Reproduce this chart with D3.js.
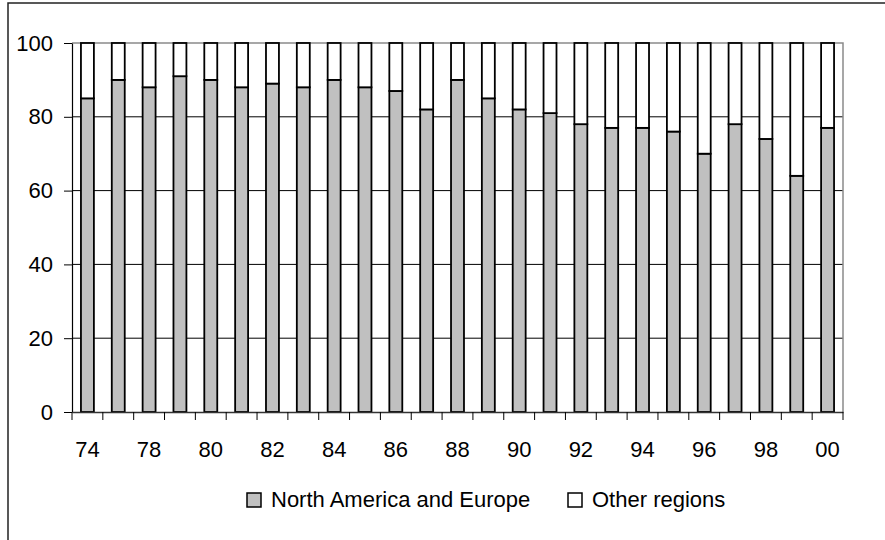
<!DOCTYPE html>
<html>
<head>
<meta charset="utf-8">
<script src="https://cdn.jsdelivr.net/npm/d3@7"></script>
<style>
  html, body { margin: 0; padding: 0; background: #fff; }
  svg { display: block; font-family: "Liberation Sans", Arial, sans-serif; }
</style>
</head>
<body>
<svg id="chart" width="885" height="540"></svg>
<script>
// Year periods (two-digit years), one bar each
const periods = ["74","75","78","79","80","81","82","83","84","85","86","87","88",
                 "89","90","91","92","93","94","95","96","97","98","99","00"];
// Share (%) by region
const northAmericaEurope = [85,90,88,91,90,88,89,88,90,88,87,82,90,85,82,81,78,77,77,76,70,78,74,64,77];
const otherRegions       = [15,10,12, 9,10,12,11,12,10,12,13,18,10,15,18,19,22,23,23,24,30,22,26,36,23];
// Axis tick labels
const xTickLabels = ["74","78","80","82","84","86","88","90","92","94","96","98","00"];
const yTickValues = [0,20,40,60,80,100];

const seriesNames = ["North America and Europe", "Other regions"];
const seriesFill = ["#c0c0c0", "#ffffff"];

const rows = periods.map((p, i) => ({
  period: p,
  "North America and Europe": northAmericaEurope[i],
  "Other regions": otherRegions[i]
}));

const svg = d3.select("#chart");
const plot = { left: 72, right: 843, top: 43, bottom: 412 };
const FONT = 22;

// Outer frame (left and top edges)
svg.append("path")
  .attr("d", `M8,540 L8,3 L885,3`)
  .attr("fill", "none").attr("stroke", "#222").attr("stroke-width", 1.5);

const x = d3.scaleBand()
  .domain(periods)
  .range([plot.left, plot.right])
  .paddingInner(0.58)
  .paddingOuter(0.29);

const y = d3.scaleLinear().domain([0, 100]).range([plot.bottom, plot.top]);

// Horizontal gridlines
svg.append("g")
  .selectAll("line")
  .data(yTickValues.filter(v => v > 0 && v < 100))
  .join("line")
  .attr("x1", plot.left).attr("x2", plot.right)
  .attr("y1", d => y(d)).attr("y2", d => y(d))
  .attr("stroke", "#000").attr("stroke-width", 1);

// Plot area top and right border
svg.append("path")
  .attr("d", `M${plot.left},${y(100)} L${plot.right},${y(100)} L${plot.right},${plot.bottom}`)
  .attr("fill", "none").attr("stroke", "#8a8a8a").attr("stroke-width", 1.5);

// Stacked bars
const stack = d3.stack().keys(seriesNames);
const layers = stack(rows);

svg.append("g")
  .selectAll("g")
  .data(layers)
  .join("g")
  .attr("fill", (d, i) => seriesFill[i])
  .selectAll("rect")
  .data(d => d)
  .join("rect")
  .attr("x", d => x(d.data.period))
  .attr("width", x.bandwidth())
  .attr("y", d => y(d[1]))
  .attr("height", d => y(d[0]) - y(d[1]))
  .attr("stroke", "#000")
  .attr("stroke-width", 1.8);

// Y axis
const yAxis = svg.append("g")
  .attr("transform", `translate(${plot.left},0)`)
  .call(d3.axisLeft(y).tickValues(yTickValues).tickSize(8).tickPadding(11).tickSizeOuter(0));
yAxis.select(".domain").attr("stroke", "#000").attr("stroke-width", 1.2);
yAxis.selectAll(".tick line").attr("stroke", "#000");
yAxis.selectAll("text").attr("font-size", FONT).attr("fill", "#000")
  .style("font-family", "'Liberation Sans', Arial, sans-serif");

// X axis: labels on every other bar, tick marks at category boundaries
const xAxis = svg.append("g")
  .attr("transform", `translate(0,${plot.bottom})`)
  .call(d3.axisBottom(x).tickValues(periods.filter(p => xTickLabels.includes(p)))
    .tickSize(0).tickPadding(29).tickSizeOuter(0));
xAxis.select(".domain").attr("stroke", "#333").attr("stroke-width", 1.5);
xAxis.selectAll("text").attr("font-size", FONT).attr("fill", "#000")
  .style("font-family", "'Liberation Sans', Arial, sans-serif");

const boundaries = periods.map(p => x(p) - x.step() * x.paddingInner() / 2).concat([plot.right]);
xAxis.append("g")
  .selectAll("line")
  .data(boundaries)
  .join("line")
  .attr("x1", d => d).attr("x2", d => d)
  .attr("y1", 0).attr("y2", 8)
  .attr("stroke", "#000").attr("stroke-width", 1);

// Legend
const legendItems = [
  { name: seriesNames[0], fill: seriesFill[0], x: 247 },
  { name: seriesNames[1], fill: seriesFill[1], x: 568 }
];
const legend = svg.append("g");
const li = legend.selectAll("g").data(legendItems).join("g")
  .attr("transform", d => `translate(${d.x},493)`);
li.append("rect")
  .attr("width", 14).attr("height", 14)
  .attr("fill", d => d.fill)
  .attr("stroke", "#000").attr("stroke-width", 1.5);
li.append("text")
  .attr("x", 24).attr("y", 14)
  .attr("font-size", FONT)
  .attr("fill", "#000")
  .text(d => d.name);
</script>
</body>
</html>
